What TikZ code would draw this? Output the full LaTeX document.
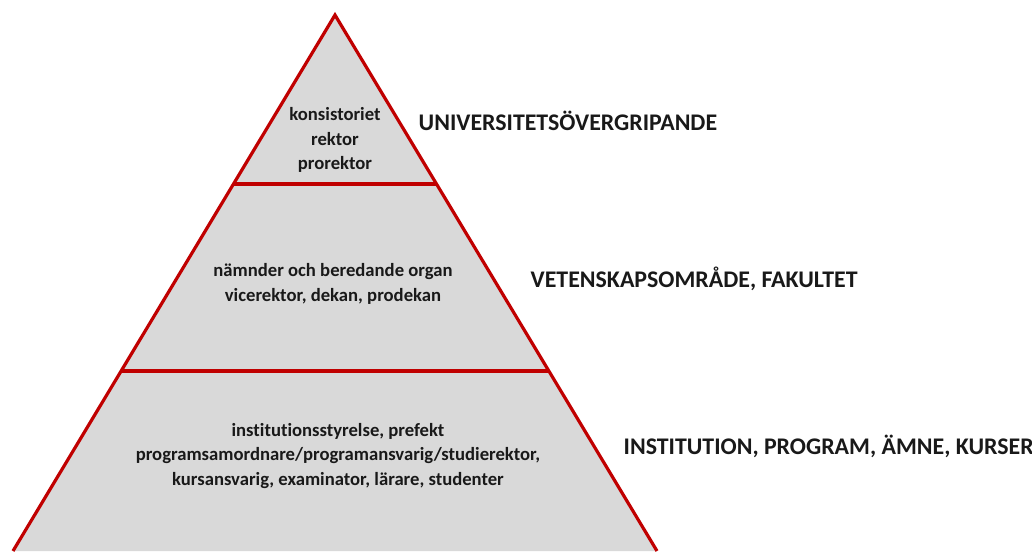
\documentclass[tikz,border=0pt]{standalone}
\usepackage{fontspec}
\setmainfont{Carlito}[Ligatures={NoCommon}]
\definecolor{pyrred}{HTML}{C00000}
\definecolor{pyrgray}{HTML}{D9D9D9}
\tikzset{
    edge/.style ={draw=pyrred, line width=2.4pt, line join=miter},
    inner/.style ={align=center, font=\bfseries\fontsize{14}{18.4}\selectfont, text=black!90},
    level/.style ={anchor=west, font=\bfseries\fontsize{17.9}{20}\selectfont, text=black!90}}
\begin{document}
\begin{tikzpicture}[x=0.75pt,y=-0.75pt]
        \useasboundingbox (0,0) rectangle (1032,551);
        \coordinate (top) at (335,15);
        \coordinate (bl) at (13,551);
        \coordinate (br) at (657,551);
        \coordinate (l1) at (234,184);
        \coordinate (r1) at (436,184);
        \coordinate (l2) at (122,371);
        \coordinate (r2) at (548,371);
        \begin{scope}
        \clip (0,0) rectangle (1032,551);
        \fill[pyrgray] (top) -- (bl) -- (br) -- cycle;
        \draw[edge] (bl) -- (top) -- (br);
        \draw[edge] (l1) -- (r1);
        \draw[edge] (l2) -- (r2);
        \end{scope}
        \node[inner] (t1) at (335,140){konsistoriet\\rektor\\prorektor};
        \node[inner] (t2) at (333,284){nämnder och beredande organ\\vicerektor, dekan, prodekan};
        \node[inner] (t3) at (338,456){institutionsstyrelse, prefekt\\programsamordnare/programansvarig/studierektor,\\kursansvarig, examinator, lärare, studenter};
        \node[level] (n1) at (414,121){UNIVERSITETSÖVERGRIPANDE};
        \node[level] (n2) at (526,279){VETENSKAPSOMRÅDE, FAKULTET};
        \node[level] (n3) at (619,446){INSTITUTION, PROGRAM, ÄMNE, KURSER};
    \end{tikzpicture}
\end{document}
